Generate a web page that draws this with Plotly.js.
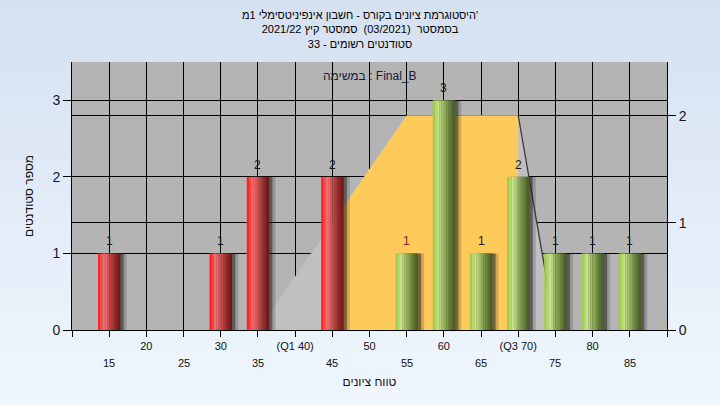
<!DOCTYPE html>
<html><head><meta charset="utf-8">
<script src="https://cdn.plot.ly/plotly-3.0.1.min.js"></script>
<style>
html,body{margin:0;padding:0;}
body{background:linear-gradient(#d5e1f1,#eff6fd);width:720px;height:405px;overflow:hidden;}
#chart{width:720px;height:405px;}
</style>
</head><body><div id="chart"></div>
<script>
// ---- data ----
const bins = [15, 30, 35, 45, 55, 60, 65, 70, 75, 80, 85];
const counts = [1, 1, 2, 2, 1, 3, 1, 2, 1, 1, 1];
const upperTicks = [20, 30, 40, 50, 60, 70, 80];
const upperLabels = ['20', '30', '(Q1 40)', '50', '60', '(Q3 70)', '80'];
const lowerTicks = [15, 25, 35, 45, 55, 65, 75, 85];
const lowerLabels = ['15', '25', '35', '45', '55', '65', '75', '85'];
const areaX = [35, 55, 70, 75];
const areaY = [0, 2, 2, 0];
const coreX = [45, 45, 55, 70, 70];
const coreY = [0, 1, 2, 2, 0];
const edgeX = [70, 75];
const edgeY = [2, 0];
const leftTicks = [0, 1, 2, 3];
const rightTicks = [0, 1, 2];
const titleLines = ["היסטוגרמת ציונים בקורס - חשבון אינפיניטסימלי 1מ'", "בסמסטר  (03/2021)  סמסטר קיץ 2021/22", "סטודנטים רשומים - 33"];
const taskLabel = "במשימה : Final_B";
const xTitle = "טווח ציונים";
const yTitle = "מספר סטודנטים";

// ---- styles ----
const FONT = 'Liberation Sans, Arial, sans-serif';
const passMark = 55;
const redShades = ['#ff2020','#ff4444','#f46c6c','#e66464','#d25454','#be4646','#aa3a3a','#962c2c','#842222','#721818'];
const greenShades = ['#a2ca4e','#b4d86a','#c6e28c','#b4d07a','#a0bc66','#8ca856','#7a9448','#68823c','#587032','#4a6026'];
const NS = redShades.length;
const BW = 3;

const traces = [];
// area polygons on primary (right) axis
traces.push({type:'scatter', x:areaX, y:areaY, xaxis:'x', yaxis:'y', mode:'lines', fill:'toself',
  fillcolor:'#c0c0c0', line:{width:0, color:'rgba(0,0,0,0)'}, hoverinfo:'skip', showlegend:false});
traces.push({type:'scatter', x:coreX, y:coreY, xaxis:'x', yaxis:'y', mode:'lines', fill:'toself',
  fillcolor:'#fecb5a', line:{width:0, color:'rgba(0,0,0,0)'}, hoverinfo:'skip', showlegend:false});
traces.push({type:'scatter', x:edgeX, y:edgeY, xaxis:'x', yaxis:'y', mode:'lines',
  line:{width:1.3, color:'#3c3c3c'}, hoverinfo:'skip', showlegend:false});

// shadows
[[0.85,'rgba(30,30,30,0.2)'],[0.45,'rgba(30,30,30,0.5)']].forEach(([s,c]) => {
  traces.push({type:'bar', x:bins, y:counts, xaxis:'x', yaxis:'y2', width:BW, offset:-BW/2 + s,
    marker:{color:c, line:{width:0}}, hoverinfo:'skip', showlegend:false});
});
// bar strips (cylinder shading)
for (let i = 0; i < NS; i++) {
  traces.push({type:'bar', x:bins, y:counts, xaxis:'x', yaxis:'y2', width:BW/NS + 0.02,
    offset:-BW/2 + i*BW/NS,
    marker:{color:bins.map(b => b < passMark ? redShades[i] : greenShades[i]), line:{width:0}},
    hoverinfo:'skip', showlegend:false});
}

const allTicks = [10].concat(lowerTicks, upperTicks, [90]).sort((a,b)=>a-b);
const tickText = allTicks.map(v => { const k = upperTicks.indexOf(v); return k >= 0 ? upperLabels[k] : ''; });

const annotations = lowerTicks.map((v, i) => ({x:v, xref:'x', y:-0.123, yref:'paper', yanchor:'middle',
  text:lowerLabels[i], showarrow:false, font:{family:FONT, size:11, color:'#111'}}));
annotations.push({x:0.5, xref:'paper', y:0.949, yref:'paper', yanchor:'middle', text:taskLabel,
  showarrow:false, font:{family:FONT, size:12, color:'#1a1a3a'}});
// value labels above bars
bins.forEach((b, i) => annotations.push({x:b, xref:'x', y:counts[i], yref:'y2', yanchor:'bottom', yshift:3,
  text:String(counts[i]), showarrow:false,
  font:{family:FONT, size:12, color: b === passMark ? '#8b1f1f' : '#151520'}}));

const layout = {
  width:720, height:405,
  paper_bgcolor:'rgba(0,0,0,0)', plot_bgcolor:'#b4b4b4',
  margin:{l:72, r:53, t:62, b:75},
  barmode:'overlay', showlegend:false,
  title:{text:titleLines.join('<br>'), x:0.5, xref:'container', y:0.953, yref:'container', yanchor:'top',
    font:{family:FONT, size:11, color:'#000'}},
  xaxis:{range:[10,90], tickmode:'array', tickvals:allTicks, ticktext:tickText, ticks:'outside', ticklen:6,
    tickcolor:'#000', showgrid:true, gridcolor:'#000', gridwidth:1, showline:true, linecolor:'#000',
    zeroline:false, automargin:false, tickfont:{family:FONT, size:11, color:'#111'},
    title:{text:xTitle, standoff:26, font:{family:FONT, size:12, color:'#111'}}},
  yaxis:{range:[0,2.5], side:'right', tickmode:'array', tickvals:rightTicks, ticks:'outside', ticklen:8,
    tickcolor:'#000', showgrid:true, gridcolor:'#000', gridwidth:1, showline:true, linecolor:'#000',
    zeroline:false, automargin:false, tickfont:{family:FONT, size:14, color:'#15152a'}},
  yaxis2:{range:[0,3.5], overlaying:'y', side:'left', tickmode:'array', tickvals:leftTicks, ticks:'outside', ticklen:8,
    tickcolor:'#000', showgrid:true, gridcolor:'#000', gridwidth:1, showline:true, linecolor:'#000',
    zeroline:false, automargin:false, tickfont:{family:FONT, size:14, color:'#15152a'},
    title:{text:yTitle, standoff:16, font:{family:FONT, size:12, color:'#111'}}},
  annotations:annotations
};

Plotly.newPlot('chart', traces, layout, {displayModeBar:false, staticPlot:true});
</script>
</body></html>
